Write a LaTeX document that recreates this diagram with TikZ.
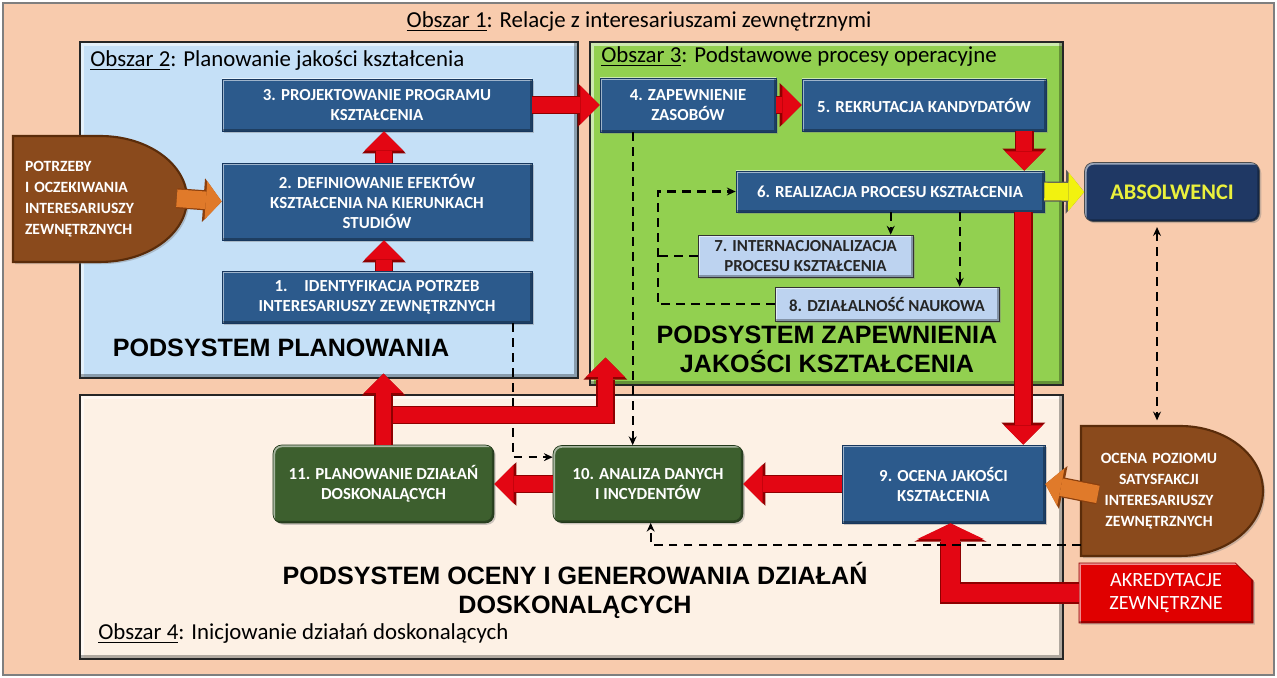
\documentclass[tikz,border=0pt]{standalone}
\usepackage{fontspec}
\setmainfont{Carlito}
\newfontfamily\headfont{Liberation Sans}
\usepackage{tikz}
\usetikzlibrary{positioning,arrows.meta,shapes.misc,calc,shadows}
\definecolor{peach}{HTML}{F8CBAD}
\definecolor{frameGray}{HTML}{7F7F7F}
\definecolor{paleBlue}{HTML}{C5E0F7}
\definecolor{limeGreen}{HTML}{92D050}
\definecolor{cream}{HTML}{FDF1E5}
\definecolor{procBlue}{HTML}{2C5A8C}
\definecolor{procEdge}{HTML}{17375E}
\definecolor{sideBlue}{HTML}{BDD3F0}
\definecolor{actGreen}{HTML}{3D5F2E}
\definecolor{actEdge}{HTML}{22381A}
\definecolor{navyBox}{HTML}{1F3864}
\definecolor{gradYellow}{HTML}{EAF03C}
\definecolor{stakeBrown}{HTML}{8A4A1C}
\definecolor{stakeEdge}{HTML}{5A2C0A}
\definecolor{arrowRed}{HTML}{E30613}
\definecolor{arrowRedDark}{HTML}{8E0000}
\definecolor{arrowOrange}{HTML}{E07A2A}
\definecolor{arrowOrangeDark}{HTML}{8A3F0E}
\definecolor{arrowYellow}{HTML}{F2F20F}
\definecolor{accrRed}{HTML}{E00000}
\tikzset{
  bevel/.style={path picture={
      \draw[white, opacity=0.55, line width=#1]
        (path picture bounding box.south west) -- (path picture bounding box.north west)
        -- (path picture bounding box.north east);
      \draw[black, opacity=0.3, line width=#1]
        (path picture bounding box.north east) -- (path picture bounding box.south east)
        -- (path picture bounding box.south west);}},
  area/.style={rectangle, draw=black!85, line width=0.7pt, bevel=5pt, inner sep=0pt},
  areatitle/.style={anchor=west, inner sep=0pt, font=\fontsize{13}{15}\selectfont},
  subsystem/.style={inner sep=0pt, align=center, font=\headfont\bfseries\fontsize{14.3}{16.5}\selectfont},
  procbox/.style={rectangle, draw=procEdge, fill=procBlue, bevel=2.5pt, text=white, align=center,
                  inner sep=1pt, font=\bfseries\fontsize{9.6}{11.4}\selectfont,
                  drop shadow={opacity=0.4, shadow xshift=1pt, shadow yshift=-1pt}},
  sidebox/.style={procbox, draw=black!80, fill=sideBlue, text=black!85},
  actbox/.style={procbox, rounded corners=5pt, draw=actEdge, fill=actGreen},
  gradbox/.style={procbox, rounded corners=5pt, draw=black!70, fill=navyBox, text=gradYellow,
                  font=\bfseries\fontsize{12.7}{14}\selectfont},
  accrbox/.style={chamfered rectangle, chamfered rectangle corners=north east,
                  chamfered rectangle xsep=5pt, chamfered rectangle ysep=5pt,
                  draw=arrowRedDark, fill=accrRed, bevel=2.5pt, text=white, align=center,
                  inner sep=1pt, font=\fontsize{11.5}{12.8}\selectfont,
                  drop shadow={opacity=0.4, shadow xshift=1pt, shadow yshift=-1pt}},
  stakeshape/.style={fill=stakeBrown, draw=stakeEdge, line width=1.2pt,
                     drop shadow={opacity=0.4, shadow xshift=1.2pt, shadow yshift=-1.2pt}},
  staketext/.style={rectangle, inner sep=0pt, text=white, font=\bfseries\fontsize{8.9}{12}\selectfont},
  fatflow/.style={draw=arrowRed, line width=9pt, -{Triangle[length=11pt,width=22pt,line width=0pt]},
                  preaction={draw=arrowRedDark, line width=10.6pt,
                             -{Triangle[length=12.6pt,width=25pt,line width=0pt]}}},
  wideflow/.style={draw=arrowRed, line width=10.5pt, -{Triangle[length=9pt,width=38pt,line width=0pt]},
                   preaction={draw=arrowRedDark, line width=12pt,
                              -{Triangle[length=10.4pt,width=41pt,line width=0pt]}}},
  stakeflow/.style={draw=arrowOrange, line width=10pt, -{Triangle[length=9pt,width=22pt,line width=0pt]},
                    preaction={draw=arrowOrangeDark, line width=11.4pt,
                               -{Triangle[length=10.4pt,width=25pt,line width=0pt]}}},
  gradflow/.style={draw=arrowYellow, line width=10pt, -{Triangle[length=9pt,width=22pt,line width=0pt]},
                   preaction={draw=black!65, line width=11.4pt,
                              -{Triangle[length=10.4pt,width=25pt,line width=0pt]}}},
  dashflow/.style={draw=black, line width=1.3pt, dash pattern=on 5pt off 3.5pt,
                   -{Stealth[length=5pt,width=4.5pt]}}
}
\begin{document}
\begin{tikzpicture}[x=0.02cm, y=-0.02cm]
\useasboundingbox (0,0) rectangle (1277,678);
\draw[draw=frameGray, fill=peach, line width=0.8pt] (3,3) rectangle (1274,675);

% areas
\node[area, fill=paleBlue, minimum width=9.96cm, minimum height=6.72cm] (area2) at (329,210) {};
\node[area, fill=limeGreen, minimum width=9.46cm, minimum height=6.86cm] (area3) at (826.5,213.5) {};
\node[area, fill=cream, minimum width=19.66cm, minimum height=5.28cm] (area4) at (571.5,527) {};

\node[areatitle, anchor=center] (t1) at (639,22) {\underline{Obszar 1}: Relacje z interesariuszami zewnętrznymi};
\node[areatitle] (t2) at (90,61) {\underline{Obszar 2}: Planowanie jakości kształcenia};
\node[areatitle] (t3) at (601,57) {\underline{Obszar 3}: Podstawowe procesy operacyjne};
\node[areatitle] (t4) at (98,634) {\underline{Obszar 4}: Inicjowanie działań doskonalących};

\node[subsystem] (sub2) at (281,348) {PODSYSTEM PLANOWANIA};
\node[subsystem] (sub3) at (827,349) {PODSYSTEM ZAPEWNIENIA\\JAKOŚCI KSZTAŁCENIA};
\node[subsystem] (sub4) at (575,590) {PODSYSTEM OCENY I GENEROWANIA DZIAŁAŃ\\DOSKONALĄCYCH};

% stakeholders
\filldraw[stakeshape] (13,136) -- (100,136) arc[start angle=90, end angle=-90, x radius=1.74cm, y radius=1.26cm] -- (13,262) -- cycle;
\node[staketext, align=left, text width=3cm, minimum width=3.48cm, minimum height=2.52cm] (pot) at (100,199)
  {POTRZEBY\\I OCZEKIWANIA\\INTERESARIUSZY\\ZEWNĘTRZNYCH};
\filldraw[stakeshape] (1081,426) -- (1180,426) arc[start angle=90, end angle=-90, x radius=1.66cm, y radius=1.3cm] -- (1081,556) -- cycle;
\node[staketext, align=center, text width=3cm, minimum width=3.12cm, minimum height=2.6cm] (oce) at (1159,491)
  {OCENA POZIOMU\\SATYSFAKCJI\\INTERESARIUSZY\\ZEWNĘTRZNYCH};

% process boxes
\node[procbox, minimum width=6.2cm, minimum height=1.04cm] (b3) at (377,105) {3. PROJEKTOWANIE PROGRAMU\\KSZTAŁCENIA};
\node[procbox, minimum width=6.2cm, minimum height=1.54cm] (b2) at (377,201.5) {2. DEFINIOWANIE EFEKTÓW\\KSZTAŁCENIA NA KIERUNKACH\\STUDIÓW};
\node[procbox, minimum width=6.2cm, minimum height=1.04cm] (b1) at (377,297) {1.\quad IDENTYFIKACJA POTRZEB\\INTERESARIUSZY ZEWNĘTRZNYCH};
\node[procbox, minimum width=3.52cm, minimum height=1.08cm] (b4) at (688,105) {4. ZAPEWNIENIE\\ZASOBÓW};
\node[procbox, minimum width=4.88cm, minimum height=1.04cm] (b5) at (924,105) {5. REKRUTACJA KANDYDATÓW};
\node[procbox, minimum width=6.16cm, minimum height=0.82cm] (b6) at (890,191.5) {6. REALIZACJA PROCESU KSZTAŁCENIA};
\node[sidebox, minimum width=4.3cm, minimum height=0.84cm] (b7) at (805.5,256) {7. INTERNACJONALIZACJA\\PROCESU KSZTAŁCENIA};
\node[sidebox, minimum width=4.48cm, minimum height=0.68cm] (b8) at (887,304) {8. DZIAŁALNOŚĆ NAUKOWA};
\node[gradbox, minimum width=3.5cm, minimum height=1.18cm] (abs) at (1172,192) {ABSOLWENCI};
\node[procbox, minimum width=4.06cm, minimum height=1.56cm] (b9) at (943.5,484) {9. OCENA JAKOŚCI\\KSZTAŁCENIA};
\node[actbox, minimum width=3.8cm, minimum height=1.54cm] (b10) at (648,484) {10. ANALIZA DANYCH\\I INCYDENTÓW};
\node[actbox, minimum width=4.42cm, minimum height=1.56cm] (b11) at (383.5,484) {11. PLANOWANIE DZIAŁAŃ\\DOSKONALĄCYCH};
\node[accrbox, minimum width=3.48cm, minimum height=1.14cm] (akr) at (1166,593) {AKREDYTACJE\\ZEWNĘTRZNE};

% dashed links
\draw[dashflow] ($(b1.south)+(136,0)$) |- ($(b10.north west)+(0,12)$);

% main flows
\draw[fatflow] ($(b1.north)+(7,0)$) -- ($(b2.south)+(7,0)$);
\draw[fatflow] ($(b2.north)+(7,0)$) -- ($(b3.south)+(7,0)$);
\draw[fatflow] (b3.east) -- (b4.west);
\draw[fatflow] (b4.east) -- (b5.west);
\draw[fatflow] ($(b5.south east)+(-22,0)$) coordinate (r5) -- (r5 |- b6.north);
\draw[fatflow] ($(b6.south east)+(-21,0)$) coordinate (r6) -- (r6 |- b9.north);
\draw[fatflow] (b9.west) -- (b10.east);
\draw[fatflow] (b10.west) -- (b11.east);
\draw[fatflow] ($(b11.north)!0.45!(b11.north |- area2.south)$) -| ($(area3.south west)+(16,-28)$);
\draw[fatflow] (b11.north) -- ($(b11.north |- area2.south)+(0,-5)$);
\draw[wideflow] (akr.west) -| ($(b9.south)+(7,0)$);
\draw[stakeflow, shorten <=-6pt] (pot.east) -- (b2.west);
\draw[stakeflow, shorten <=-10pt] (oce.west) -- (b9.east);
\draw[gradflow] (b6.east) -- (abs.west);

\draw[dashflow] ($(b4.south west)+(33,0)$) coordinate (d4) -- (d4 |- b10.north);
\draw[dashflow] ($(oce.south west)+(0,-11)$) -| ($(b10.south west)+(98,0)$);
\draw[dashflow] ($(b6.south west)+(155,0)$) coordinate (d6a) -- (d6a |- b7.north);
\draw[dashflow] ($(b6.south west)+(224,0)$) coordinate (d6b) -- (d6b |- b8.north);
\coordinate (loopL) at ($(b6.west)+(-78,0)$);
\draw[dashflow] (b8.west) -| (loopL) -- (b6.west);
\draw[dashflow, -] (b7.west) -- (b7.west -| loopL);
\draw[dashflow, {Stealth[length=5pt,width=4.5pt]}-{Stealth[length=5pt,width=4.5pt]}, shorten <=3pt, shorten >=3pt]
  ($(abs.south)+(-15,0)$) coordinate (dAbs) -- (dAbs |- oce.north);
\end{tikzpicture}
\end{document}
